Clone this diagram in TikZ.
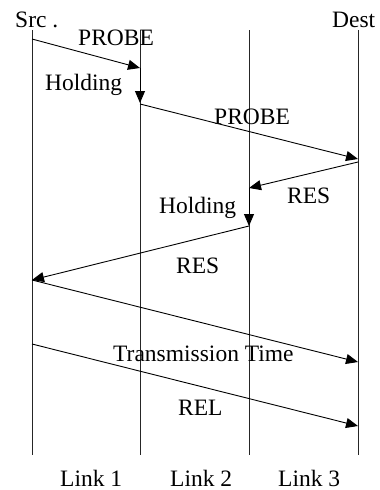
\documentclass[tikz,border=0pt]{standalone}
\usepackage{fontspec}
\setmainfont{Liberation Serif}
\usetikzlibrary{arrows.meta}
\begin{document}
\begin{tikzpicture}[x=1pt,y=-1pt,
  lifeline/.style={draw=black!85,line width=0.9pt},
  msg/.style={draw=black,line width=0.9pt,-{Triangle[length=12pt,width=10pt]}},
  lbl/.style={anchor=base west,inner sep=0pt,font=\fontsize{23.5}{28}\selectfont}]
\useasboundingbox (0,0) rectangle (380,490);
% lifelines
\coordinate (a0) at (32,30);  \coordinate (a1) at (32,455);
\coordinate (b0) at (140,30); \coordinate (b1) at (140,455);
\coordinate (c0) at (249,30); \coordinate (c1) at (249,455);
\coordinate (d0) at (358,30); \coordinate (d1) at (358,455);
\draw[lifeline] (a0) -- (a1);
\draw[lifeline] (b0) -- (b1);
\draw[lifeline] (c0) -- (c1);
\draw[lifeline] (d0) -- (d1);
% message points
\coordinate (p1s) at (32,39);   \coordinate (p1e) at (140,68);
\coordinate (h1e) at (140,103);
\coordinate (p2s) at (140,104); \coordinate (p2e) at (358,159);
\coordinate (r1s) at (358,162); \coordinate (r1e) at (249,188);
\coordinate (h2e) at (249,226);
\coordinate (r2s) at (249,226); \coordinate (r2e) at (32,280);
\coordinate (ts) at (32,280);   \coordinate (te) at (358,362);
\coordinate (ls) at (32,344);   \coordinate (le) at (358,426);
\draw[msg] (p1s) -- (p1e);
\draw[msg] (p1e) -- (h1e);
\draw[msg] (p2s) -- (p2e);
\draw[msg] (r1s) -- (r1e);
\draw[msg] (r1e) -- (h2e);
\draw[msg] (r2s) -- (r2e);
\draw[msg] (ts) -- (te);
\draw[msg] (ls) -- (le);
% labels
\node[lbl] (src) at (15,27) {Src .};
\node[lbl] (dst) at (332,27) {Dest};
\node[lbl] (pr1) at (78,45) {PROBE};
\node[lbl] (ho1) at (45,90) {Holding};
\node[lbl] (pr2) at (214,124) {PROBE};
\node[lbl] (re1) at (287,203) {RES};
\node[lbl] (ho2) at (159,213) {Holding};
\node[lbl] (re2) at (176,273) {RES};
\node[lbl] (tt) at (113,361) {Transmission Time};
\node[lbl] (rel) at (178,415) {REL};
\node[lbl,text depth=0pt] (l1) at (60,486) {Link 1};
\node[lbl,text depth=0pt] (l2) at (170,486) {Link 2};
\node[lbl,text depth=0pt] (l3) at (278,486) {Link 3};
\end{tikzpicture}
\end{document}
